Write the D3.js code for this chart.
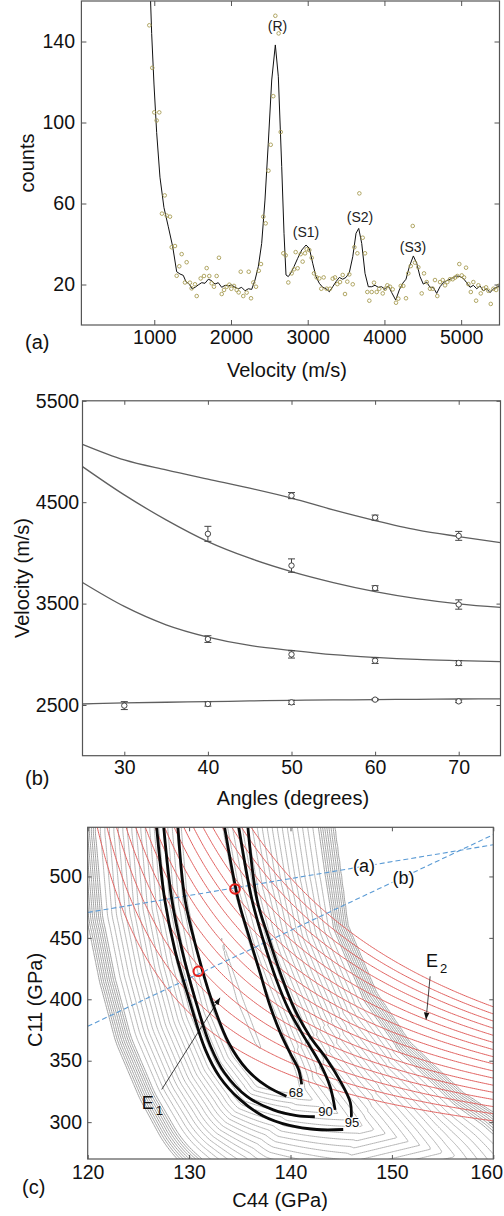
<!DOCTYPE html>
<html><head><meta charset="utf-8">
<script src="https://cdn.jsdelivr.net/npm/d3@7"></script>
<style>
html,body{margin:0;padding:0;background:#fff;}
svg{display:block;}
text{font-family:"Liberation Sans",Arial,sans-serif;}
</style></head><body>
<svg id="fig" width="504" height="1216"></svg>
<script>
// ---------------- Panel (a): spectrum ----------------
const specXTicks = [1000,2000,3000,4000,5000];
const specYTicks = [20,60,100,140];
const specPoints = [[935,148],[974,127],[1000,105],[1031,101],[1065,105],[1100,55],[1136,64],[1162,54],[1205,53.5],[1227,38.4],[1270,39],[1292,24.3],[1326,29],[1357,35],[1400,21],[1422,31],[1465,20.9],[1487,18.1],[1531,20.1],[1553,14.3],[1605,23],[1648,24.2],[1683,28.1],[1717,24.2],[1748,20.6],[1778,18.9],[1813,24.2],[1843,33.2],[1879,15.3],[1909,17.3],[1944,18.9],[1978,19.9],[2004,17.9],[2039,19.3],[2074,17.3],[2100,16.1],[2127,26.3],[2160,14.3],[2204,16],[2231,26.3],[2261,13.2],[2291,21],[2326,18.9],[2362,26.8],[2391,30.1],[2421,53.5],[2452,50.2],[2488,76.2],[2518,89],[2551,113],[2578,152.7],[2621,144],[2648,95.3],[2682,35.4],[2713,34.4],[2747,21],[2791,25.5],[2821,27.5],[2843,36],[2869,28],[2908,35],[2934,31.3],[2965,35.4],[2987,37.4],[3021,37],[3052,33.2],[3082,25.5],[3117,23.5],[3151,23],[3177,17.9],[3208,23.5],[3247,17.9],[3291,17.9],[3326,22.9],[3356,23.5],[3386,20.2],[3421,21.2],[3456,24.7],[3486,15.3],[3516,21.4],[3542,25],[3587,20.1],[3608,38.4],[3647,35.4],[3673,65],[3717,43.1],[3747,35.4],[3777,16.3],[3803,12],[3834,16.3],[3864,20.9],[3899,16.3],[3933,17.9],[3978,15.6],[4008,17.9],[4038,19.6],[4073,18.9],[4108,17.6],[4151,11],[4181,13],[4213,19.3],[4246,19.3],[4281,13.2],[4311,25.5],[4343,29.1],[4369,48.9],[4398,30.8],[4442,28.5],[4486,15.6],[4516,25.5],[4551,21.2],[4594,17.9],[4629,17.9],[4659,22.2],[4689,14.3],[4725,21.2],[4760,22.2],[4790,19.6],[4820,21.2],[4855,22.6],[4890,22.6],[4920,23.4],[4950,24.2],[4976,30.1],[5008,24.5],[5038,23.5],[5064,28.3],[5094,20.2],[5126,16.3],[5159,21.2],[5195,12],[5225,19.6],[5256,15.6],[5290,17.9],[5325,18.6],[5355,16.9],[5386,10.4],[5421,17.9],[5456,17.3],[5486,19.3]];
const specFit = [[950,162],[966,144],[996,119],[1031,95],[1074,73],[1126,58],[1183,48.5],[1240,38.7],[1292,26.3],[1335,25.2],[1378,24.5],[1413,21.4],[1456,20.2],[1495,17.8],[1531,18.6],[1574,19.8],[1618,20.9],[1661,20.6],[1704,22.6],[1748,21.9],[1791,20.2],[1834,20.9],[1879,18.6],[1922,19.6],[1965,19.3],[2009,19.8],[2052,18.6],[2095,17.9],[2139,18.6],[2183,16.9],[2226,17.9],[2270,17.6],[2313,22.2],[2356,28.8],[2400,40.3],[2443,61.7],[2486,89.7],[2531,121],[2578,138.3],[2617,122.6],[2661,78.2],[2691,45.3],[2717,24.7],[2747,23.9],[2782,25.8],[2821,28.8],[2869,32.9],[2922,37],[2978,39.5],[3021,37.9],[3065,30.5],[3108,23.9],[3151,20.6],[3196,18.6],[3239,17.9],[3282,16.4],[3326,18.9],[3369,21.4],[3412,23.5],[3456,22.6],[3499,23.5],[3542,25.8],[3587,33.7],[3630,45.3],[3665,47.7],[3704,40.3],[3747,25.5],[3790,18.9],[3834,18.9],[3877,19.6],[3921,18.6],[3964,18.9],[4008,17.6],[4051,19.3],[4095,16],[4147,12.3],[4194,17.3],[4238,20.6],[4281,22.6],[4325,28.8],[4377,34.1],[4421,30.5],[4464,23.9],[4507,20.2],[4551,21.2],[4594,18.6],[4638,18.6],[4681,15.6],[4725,18.9],[4768,20.9],[4811,21.9],[4855,22.6],[4899,23.5],[4942,24.2],[4985,23.9],[5029,23],[5072,20.9],[5116,18.6],[5159,19.6],[5203,17.9],[5246,19.3],[5290,16.9],[5333,17.9],[5377,16],[5421,17.9],[5464,18.6],[5494,19.3]];
const peakNames = ["(R)","(S1)","(S2)","(S3)"];
const peakLabelPos = [[2606,147.7],[2978,45.9],[3682,53.3],[4373,38.5]];

// ---------------- Panel (b): dispersion ----------------
const angleTicks = [30,40,50,60,70];
const velTicks = [2500,3500,4500,5500];
const curveAngles = [25,30,35,40,45,50,55,60,65,70,75];
const curveMode1 = [5071,4917,4818,4727,4638,4540,4424,4319,4227,4161,4102];
const curveMode2 = [4851,4572,4326,4112,3948,3816,3708,3619,3550,3498,3462];
const curveMode3 = [3708,3472,3291,3170,3087,3038,2996,2969,2949,2937,2927];
const curveMode4 = [2510,2520,2527,2533,2540,2546,2550,2553,2556,2559,2560];
// [angle, velocity, error]
const measMode1 = [[50,4565,30],[60,4348,25],[70,4168,44]];
const measMode2 = [[40,4188,74],[50,3875,66],[60,3653,23],[70,3491,46]];
const measMode3 = [[40,3150,33],[50,2999,36],[60,2937,28],[70,2914,25]];
const measMode4 = [[30,2494,39],[40,2510,21],[50,2526,20],[60,2553,10],[70,2536,12]];

// ---------------- Panel (c): C44 / C11 map ----------------
const c44Ticks = [120,130,140,150,160];
const c11Ticks = [300,350,400,450,500];
// misfit valley floor: [C44, C11, floor level, left steepness, right steepness]
const valleyFloor = [[131.0,585,3,1.0,0.85],[131.2,540,0,1.0,0.85],[132.2,481,-4,1.0,0.85],[133.5,440,-7,1.0,0.85],[135.0,400,-9,1.0,0.84],[136.7,365,-8,1.0,0.82],[138.2,343,-2,0.95,0.78],[141.0,323,20,0.75,0.6],[147.0,297,42,0.6,0.5],[155.0,275,74,0.6,0.5],[165.0,250,110,0.6,0.5],[178.0,220,150,0.6,0.5]];
// outer edge of the steep right-hand band of the misfit map [C44, C11]
const bandEdge = [[143.9,578.5],[144.4,540.3],[145.7,460.5],[148.5,405.9],[151.8,365.2],[157.0,324.5],[160.0,308.3],[164.6,277.3],[170.5,236.6]];
const grayLevels = [-6,20,24.5,29,33.5,38,42.5,47,51.5,56,60.5,65,69.5,74,78.5,83,87.5,92,96.5,101,106,108,110,112,114,116,118,120,122];
// E2 family: (C11 - 250)(C44 - 112.6) = k
const redLevels = [2420,2695,2970,3245,3520,3795,4070,4345,4620,4895,5170,5445,5720,5995,6270,6545,6820];
const black95Left = [[126.8,540],[127.6,481],[128.6,440],[130.0,400],[131.6,359],[133.0,337],[135.0,318.5],[137.3,305],[139.9,297.3],[142.6,294],[145.2,294]];
const black95Right = [[135.8,540],[136.7,481],[137.8,451],[139.1,419],[140.4,392],[141.9,370],[143.6,351],[145.0,332],[145.9,316],[146.0,303.6]];
const black90Left = [[127.5,540],[128.3,481],[129.3,440],[130.6,400],[132.1,362],[133.5,340],[135.7,321],[138.3,310],[140.6,305.4],[142.4,304.4]];
const black90Right = [[134.9,540],[136.2,481],[137.3,448.5],[138.6,416],[139.8,392],[141.3,370],[142.9,348],[143.9,329],[144.4,310]];
const black68Left = [[128.9,540],[129.6,481],[130.75,440.4],[132.2,399.8],[133.9,364.6],[135.7,342.8],[137.65,329.3],[139.6,321.1]];
const black68Right = [[133.5,540],[134.85,481],[135.8,454],[137.0,421.5],[138.0,394.3],[139.0,372.7],[139.95,356.4],[140.8,342.8],[141.1,330.7]];
const levelNames = ["68","90","95"];
const levelLabelPos = [[140.54,323.9],[143.45,308.9],[146.07,299.8]];
const lineA = [[120,470.7],[160,525.8]];
const lineB = [[120,378],[160,534]];
const lineNames = ["(a)","(b)"];
const lineLabelPos = [[147.25,508.7],[151.15,499]];
const solutions = [[134.53,489.8],[130.91,422.8]];
const arrowE1 = [[127.3,326.6],[133.05,401.2]];
const arrowE2 = [[153.77,418.7],[153.37,383.5]];
const labelE1 = [125.33,310.3];
const labelE2 = [153.36,426.6];

// ====================================================
const svg = d3.select("#fig");
const TICKFS = 19.5, TITLEFS = 20;

function frame(g, x, y, xt, yt, len, padX, padY, col){
  const [x0,x1] = x.range(), [yb,yt0] = y.range();
  g.append("g").attr("class","xax").attr("transform",`translate(0,${yb})`)
    .call(d3.axisBottom(x).tickValues(xt).tickSize(-len).tickPadding(padX).tickFormat(d3.format("d")));
  g.append("g").attr("transform",`translate(0,${yt0})`)
    .call(d3.axisTop(x).tickValues(xt).tickSize(-len).tickFormat(""));
  g.append("g").attr("transform",`translate(${x0},0)`)
    .call(d3.axisLeft(y).tickValues(yt).tickSize(-len).tickPadding(padY).tickFormat(d3.format("d")));
  g.append("g").attr("transform",`translate(${x1},0)`)
    .call(d3.axisRight(y).tickValues(yt).tickSize(-len).tickFormat(""));
  g.selectAll(".domain").remove();
  g.selectAll(".tick line").attr("stroke",col).attr("stroke-width",1);
  g.selectAll(".tick text").attr("font-size",TICKFS).attr("fill","#111")
    .attr("font-family","Liberation Sans, Arial, sans-serif");
  // keep the last bottom label inside the page
  g.selectAll(".xax .tick text").each(function(){
    const tr = this.parentNode.getAttribute("transform");
    const tx = +tr.match(/translate\(([-\d.]+)/)[1];
    const w = this.getComputedTextLength();
    if(tx + w/2 > 503) d3.select(this).attr("dx", (503 - w/2 - tx).toFixed(1));
  });
  g.append("rect").attr("x",x0).attr("y",yt0).attr("width",x1-x0).attr("height",yb-yt0)
    .attr("fill","none").attr("stroke",col).attr("stroke-width",1.2);
}
function clipFor(id, x, y){
  const [x0,x1] = x.range(), [yb,yt0] = y.range();
  svg.append("clipPath").attr("id",id).append("rect")
    .attr("x",x0).attr("y",yt0).attr("width",x1-x0).attr("height",yb-yt0);
  return `url(#${id})`;
}
function title(txt, x, y, rot, fs){
  const t = svg.append("text").text(txt).attr("font-size",fs||TITLEFS).attr("fill","#111")
    .attr("text-anchor","middle").attr("dy","0.35em");
  if(rot) t.attr("transform",`translate(${x},${y}) rotate(-90)`);
  else t.attr("x",x).attr("y",y);
  return t;
}

// ---------------- Panel (a) ----------------
{
  const x = d3.scaleLinear().domain([50,5500]).range([81.4,499.5]);
  const y = d3.scaleLinear().domain([0,160]).range([325,1]);
  const g = svg.append("g");
  const cp = clipFor("clipA", x, y);
  const pg = g.append("g").attr("clip-path",cp);
  pg.append("path").datum(specFit)
    .attr("d", d3.line().x(d=>x(d[0])).y(d=>y(d[1])))
    .attr("fill","none").attr("stroke","#111").attr("stroke-width",1);
  pg.selectAll("circle").data(specPoints).join("circle")
    .attr("cx",d=>x(d[0])).attr("cy",d=>y(d[1])).attr("r",1.8)
    .attr("fill","none").attr("stroke","#a89d55").attr("stroke-width",0.9);
  frame(g, x, y, specXTicks, specYTicks, 5, 5.5, 6.4, "#555");
  g.selectAll(null).data(peakNames).join("text")
    .attr("x",(d,i)=>x(peakLabelPos[i][0])).attr("y",(d,i)=>y(peakLabelPos[i][1]))
    .attr("dy","0.35em").attr("text-anchor","middle")
    .attr("font-family","Open Sans, sans-serif").attr("font-size",14).attr("fill","#222")
    .text(d=>d);
  title("counts", 27, 163, true);
  title("Velocity (m/s)", 287, 370);
  svg.append("text").text("(a)").attr("x",25).attr("y",349).attr("font-size",TITLEFS).attr("fill","#111");
}

// ---------------- Panel (b) ----------------
{
  const x = d3.scaleLinear().domain([25,75]).range([82.5,500.5]);
  const y = d3.scaleLinear().domain([2000,5500]).range([755.7,400.8]);
  const g = svg.append("g");
  const cp = clipFor("clipB", x, y);
  const pg = g.append("g").attr("clip-path",cp);
  const line = d3.line().x(d=>x(d[0])).y(d=>y(d[1])).curve(d3.curveMonotoneX);
  [curveMode1,curveMode2,curveMode3,curveMode4].forEach(vals=>{
    pg.append("path").datum(curveAngles.map((a,i)=>[a,vals[i]]))
      .attr("d",line).attr("fill","none").attr("stroke","#5f5f5f").attr("stroke-width",1.3);
  });
  [measMode1,measMode2,measMode3,measMode4].forEach(ms=>{
    const mg = pg.append("g").attr("stroke","#444").attr("fill","none").attr("stroke-width",1);
    ms.forEach(([a,v,e])=>{
      const cx = x(a);
      mg.append("line").attr("x1",cx).attr("x2",cx).attr("y1",y(v-e)).attr("y2",y(v+e));
      mg.append("line").attr("x1",cx-3.5).attr("x2",cx+3.5).attr("y1",y(v-e)).attr("y2",y(v-e));
      mg.append("line").attr("x1",cx-3.5).attr("x2",cx+3.5).attr("y1",y(v+e)).attr("y2",y(v+e));
      mg.append("circle").attr("cx",cx).attr("cy",y(v)).attr("r",2.7).attr("fill","#fff");
    });
  });
  frame(g, x, y, angleTicks, velTicks, 4, 4.2, 3.3, "#555");
  title("Velocity (m/s)", 22, 578, true);
  title("Angles (degrees)", 293, 798);
  svg.append("text").text("(b)").attr("x",25).attr("y",785).attr("font-size",TITLEFS).attr("fill","#111");
}

// ---------------- Panel (c) ----------------
{
  const x = d3.scaleLinear().domain([120,160]).range([87.7,493.3]);
  const y = d3.scaleLinear().domain([270,540]).range([1159,827.3]);
  const g = svg.append("g");
  const cp = clipFor("clipC", x, y);
  const pg = g.append("g").attr("clip-path",cp);

  const st = 2, m = 8;
  const [px0,px1] = x.range(), [pyb,pyt] = y.range();
  const gx0 = px0-m, gy0 = pyt-m;
  const nx = Math.ceil((px1-px0+2*m)/st)+1, ny = Math.ceil((pyb-pyt+2*m)/st)+1;
  const proj = d3.geoIdentity().scale(st).translate([gx0-0.5*st, gy0-0.5*st]);
  const path = d3.geoPath(proj);
  function grid(fn){
    const v = new Float64Array(nx*ny);
    for(let j=0;j<ny;j++) for(let i=0;i<nx;i++){
      v[j*nx+i] = fn(gx0+i*st, gy0+j*st);
    }
    return v;
  }
  // nearest point on a pixel polyline: distance, side (-1 right / +1 left), segment index, t
  function nearest(P, px, py){
    let best = Infinity, side = 1, si = 0, st_ = 0;
    for(let i=0;i<P.length-1;i++){
      const A = P[i], B = P[i+1];
      const dx = B[0]-A[0], dy = B[1]-A[1], L2 = dx*dx+dy*dy;
      let t = ((px-A[0])*dx+(py-A[1])*dy)/L2; t = t<0?0:(t>1?1:t);
      const d = Math.hypot(px-(A[0]+t*dx), py-(A[1]+t*dy));
      if(d<best){ best = d; side = (dx*(py-A[1])-dy*(px-A[0]))<0?-1:1; si = i; st_ = t; }
    }
    return [best, side, si, st_];
  }
  const cl = valleyFloor.map(d=>[x(d[0]),y(d[1]),d[2],d[3],d[4]]);
  const band = bandEdge.map(d=>[x(d[0]),y(d[1])]);
  function misfit(px,py){
    const [dC, side, i, t] = nearest(cl, px, py);
    const A = cl[i], B = cl[i+1];
    const fl = A[2]+t*(B[2]-A[2]);
    if(side>0) return fl + dC*(A[3]+t*(B[3]-A[3]));
    const fc = fl + dC*(A[4]+t*(B[4]-A[4]));
    const [dB, bside] = nearest(band, px, py);
    if(bside<0) return 122 + dB*2;
    const fb = dB<18 ? 122 - dB*(16/18) : 106 - (dB-18)*0.8;
    const w = dB/(dC+dB+1e-9);
    return fc*w + fb*(1-w);
  }
  const grayVals = grid(misfit);
  const grayC = d3.contours().size([nx,ny]).thresholds(grayLevels)(grayVals);
  pg.append("g").selectAll("path").data(grayC).join("path")
    .attr("d",path).attr("fill","none")
    .attr("stroke",d=>d.value>=106?"#a0a0a0":"#b5b5b5").attr("stroke-width",1);

  const redVals = grid((px,py)=> (y.invert(py)-250)*(x.invert(px)-112.6));
  const redC = d3.contours().size([nx,ny]).thresholds(redLevels)(redVals);
  pg.append("g").selectAll("path").data(redC).join("path")
    .attr("d",path).attr("fill","none").attr("stroke","#e0615f").attr("stroke-width",1);

  const ln = d3.line().x(d=>x(d[0])).y(d=>y(d[1]));
  [lineA,lineB].forEach(L=>{
    pg.append("path").datum(L).attr("d",ln).attr("fill","none")
      .attr("stroke","#5b9bd5").attr("stroke-width",1.1).attr("stroke-dasharray","5,3");
  });
  const bl = d3.line().x(d=>x(d[0])).y(d=>y(d[1])).curve(d3.curveCatmullRom.alpha(0.5));
  [black95Left,black95Right,black90Left,black90Right,black68Left,black68Right].forEach(L=>{
    pg.append("path").datum(L).attr("d",bl).attr("fill","none")
      .attr("stroke","#0a0a0a").attr("stroke-width",2.8).attr("stroke-linejoin","round");
  });
  pg.selectAll(null).data(solutions).join("circle")
    .attr("cx",d=>x(d[0])).attr("cy",d=>y(d[1])).attr("r",4.8)
    .attr("fill","none").attr("stroke","#e8201c").attr("stroke-width",2);

  g.selectAll(null).data(levelNames).join("text")
    .attr("x",(d,i)=>x(levelLabelPos[i][0])).attr("y",(d,i)=>y(levelLabelPos[i][1]))
    .attr("dy","0.35em").attr("text-anchor","middle").attr("font-size",13).attr("fill","#111")
    .attr("stroke","#fff").attr("stroke-width",2.5).attr("paint-order","stroke").text(d=>d);
  g.selectAll(null).data(lineNames).join("text")
    .attr("x",(d,i)=>x(lineLabelPos[i][0])).attr("y",(d,i)=>y(lineLabelPos[i][1]))
    .attr("dy","0.35em").attr("text-anchor","middle").attr("font-size",18).attr("fill","#111")
    .attr("stroke","#fff").attr("stroke-width",3).attr("paint-order","stroke").text(d=>d);

  svg.append("defs").append("marker").attr("id","arr").attr("viewBox","0 0 10 10")
    .attr("refX",10).attr("refY",5).attr("markerWidth",7).attr("markerHeight",7)
    .attr("markerUnits","userSpaceOnUse").attr("orient","auto")
    .append("path").attr("d","M0,1 L10,5 L0,9 Z").attr("fill","#111");
  [arrowE1,arrowE2].forEach(A=>{
    g.append("path").datum(A).attr("d",ln).attr("stroke","#111").attr("stroke-width",0.8)
      .attr("fill","none").attr("marker-end","url(#arr)");
  });
  [[labelE1,"1"],[labelE2,"2"]].forEach(([p,sub])=>{
    const t = g.append("text").attr("x",x(p[0])).attr("y",y(p[1])).attr("font-size",18).attr("fill","#111");
    t.append("tspan").text("E");
    t.append("tspan").attr("dx",2).attr("dy",6).attr("font-size",13).text(sub);
  });

  frame(g, x, y, c44Ticks, c11Ticks, 4, 5.9, 5.7, "#555");
  title("C11 (GPa)", 35, 1000, true);
  title("C44 (GPa)", 280, 1200);
  svg.append("text").text("(c)").attr("x",22).attr("y",1194).attr("font-size",TITLEFS).attr("fill","#111");
}
</script>
</body></html>
